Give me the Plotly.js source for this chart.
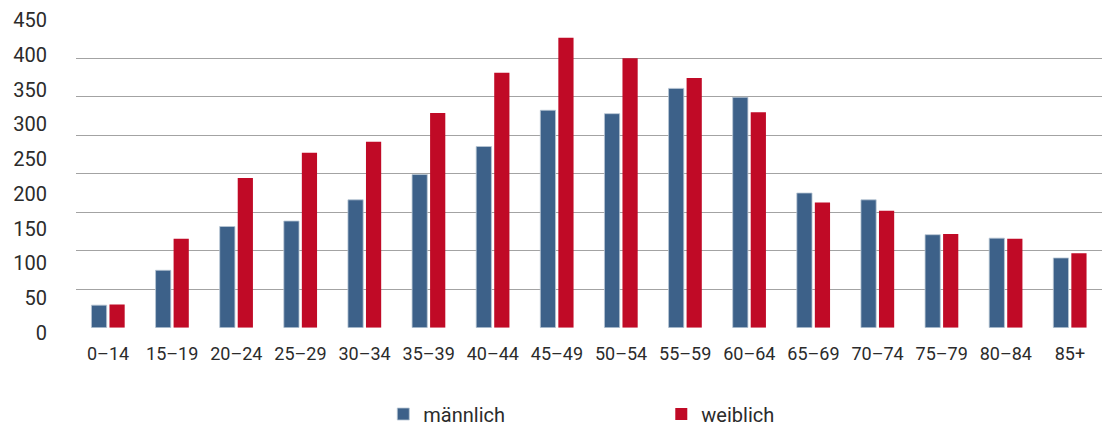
<!DOCTYPE html>
<html>
<head>
<meta charset="utf-8">
<script src="https://cdn.plot.ly/plotly-3.0.1.min.js"></script>
<style>
  html, body { margin: 0; padding: 0; background: #fff; }
  #chart { width: 1106px; height: 423px; }
</style>
</head>
<body>
<div id="chart"></div>
<script>
const categories = ["0–14","15–19","20–24","25–29","30–34","35–39","40–44","45–49","50–54","55–59","60–64","65–69","70–74","75–79","80–84","85+"];
const maennlich = [33, 84, 148, 156, 187, 224, 265, 318, 313, 350, 337, 197, 187, 136, 131, 102];
const weiblich  = [34, 130, 219, 256, 272, 314, 373, 424, 394, 365, 315, 183, 171, 137, 130, 109];
const yTickVals = [0, 50, 100, 150, 200, 250, 300, 350, 400, 450];

const textColor = "#2b2b2b";
const fontFam = "Roboto, 'DejaVu Sans', sans-serif";

const traces = [
  {
    type: "bar", name: "männlich", x: categories, y: maennlich,
    marker: { color: "#3d6189", line: { color: "#b9c6d4", width: 0.8 } },
    hoverinfo: "skip"
  },
  {
    type: "bar", name: "weiblich", x: categories, y: weiblich,
    marker: { color: "#c00a26", line: { width: 0 } },
    hoverinfo: "skip"
  },
  {
    type: "scatter", mode: "lines", x: [categories[0]], y: [null],
    yaxis: "y2", showlegend: false, hoverinfo: "skip"
  }
];

const layout = {
  width: 1106, height: 423,
  margin: { l: 76, r: 4, t: 20, b: 90, autoexpand: false },
  paper_bgcolor: "#ffffff", plot_bgcolor: "rgba(0,0,0,0)",
  font: { family: fontFam, color: textColor },
  barmode: "group",
  bargap: 0.438,
  bargroupgap: 0.156,
  showlegend: true,
  legend: {
    orientation: "h",
    x: 0.2995, xanchor: "left",
    y: -0.2588, yanchor: "middle",
    entrywidth: 233, entrywidthmode: "pixels",
    font: { size: 20, color: textColor, family: fontFam },
    bgcolor: "rgba(0,0,0,0)"
  },
  xaxis: {
    type: "category",
    anchor: "y",
    range: [-0.5, categories.length - 0.5],
    showgrid: false, zeroline: false, showline: false,
    ticks: "outside", ticklen: 10, tickcolor: "rgba(0,0,0,0)",
    tickfont: { size: 18, color: textColor, family: fontFam }
  },
  yaxis: {
    domain: [0.0169, 1],
    range: [0, 450],
    tick0: 0, dtick: 56.25,
    showticklabels: false,
    showgrid: true, gridcolor: "#a3a3a3", gridwidth: 1,
    zeroline: false, showline: false, ticks: ""
  },
  yaxis2: {
    domain: [0, 1],
    anchor: "x",
    range: [0, 450],
    tickmode: "array", tickvals: yTickVals,
    showgrid: false, zeroline: false, showline: false,
    ticks: "outside", ticklen: 24, tickcolor: "rgba(0,0,0,0)",
    tickfont: { size: 20, color: textColor, family: fontFam }
  }
};

Plotly.newPlot("chart", traces, layout, { displayModeBar: false, staticPlot: true });
</script>
</body>
</html>
